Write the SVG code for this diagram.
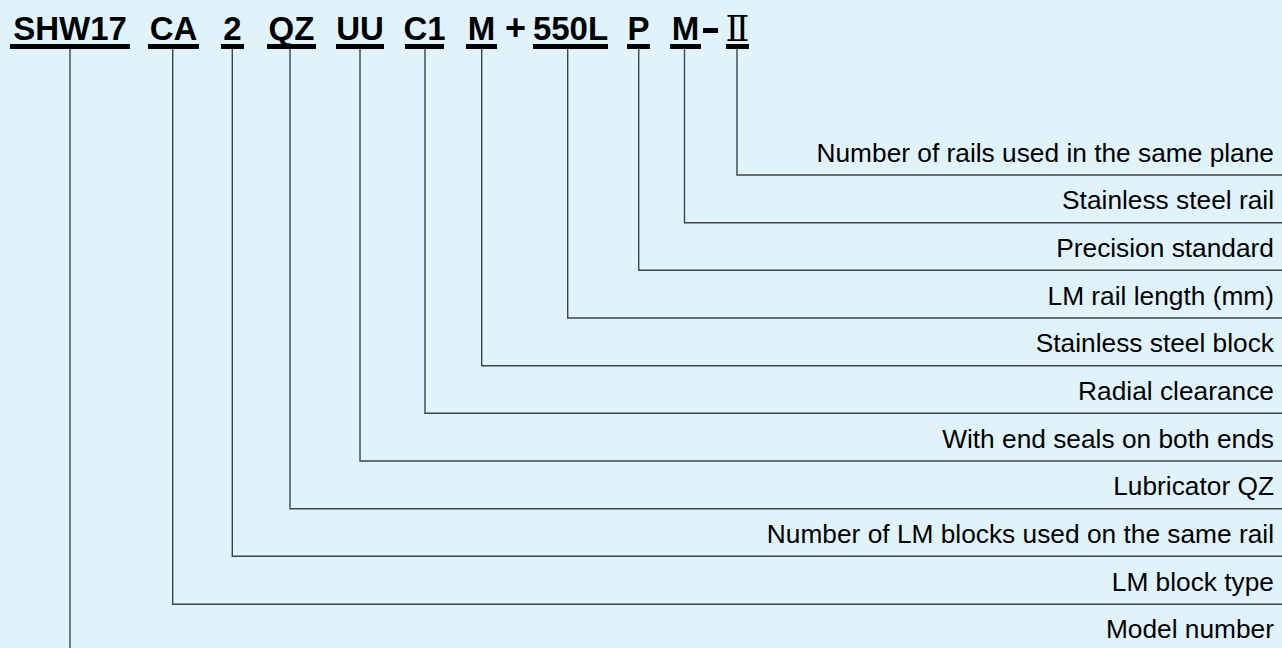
<svg xmlns="http://www.w3.org/2000/svg" width="1282" height="648" viewBox="0 0 1282 648">
<style>
.code{font-family:"Liberation Sans",Arial,sans-serif;font-weight:bold;font-size:33px;fill:#000;text-anchor:middle}
.sym{font-family:"Liberation Sans",Arial,sans-serif;font-weight:bold;font-size:36px;fill:#000;text-anchor:middle}
.rn{font-family:"DejaVu Serif","Liberation Serif",serif;font-weight:normal;font-size:35px;fill:#000;text-anchor:middle}
.lbl{font-family:"Liberation Sans",Arial,sans-serif;font-size:26.3px;fill:#000;text-anchor:end}
.ul{fill:#000}
.ln{fill:none;stroke:#3c4449;stroke-width:1.4}
</style>
<rect width="1282" height="648" fill="#e0f3fb"/>
<g id="code">
<g id="t-shw17"><text class="code" x="70" y="40">SHW17</text><rect class="ul" x="10" y="44" width="120" height="5"/></g>
<g id="t-ca"><text class="code" x="173.5" y="40">CA</text><rect class="ul" x="148" y="44" width="51" height="5"/></g>
<g id="t-2"><text class="code" x="232.5" y="40">2</text><rect class="ul" x="221" y="44" width="23" height="5"/></g>
<g id="t-qz"><text class="code" x="291.5" y="40">QZ</text><rect class="ul" x="267" y="44" width="49" height="5"/></g>
<g id="t-uu"><text class="code" x="360" y="40">UU</text><rect class="ul" x="336" y="44" width="48" height="5"/></g>
<g id="t-c1"><text class="code" x="424.5" y="40">C1</text><rect class="ul" x="405" y="44" width="39" height="5"/></g>
<g id="t-m1"><text class="code" x="481.5" y="40">M</text><rect class="ul" x="466" y="44" width="31" height="5"/></g>
<g id="t-plus"><text class="sym" x="515.5" y="40">+</text></g>
<g id="t-550l"><text class="code" x="570.5" y="40">550L</text><rect class="ul" x="533" y="44" width="75" height="5"/></g>
<g id="t-p"><text class="code" x="638.5" y="40">P</text><rect class="ul" x="627" y="44" width="23" height="5"/></g>
<g id="t-m2"><text class="code" x="685.5" y="40">M</text><rect class="ul" x="670" y="44" width="31" height="5"/></g>
<g id="t-dash"><rect class="ul" x="703" y="28" width="15" height="5"/></g>
<g id="t-ii"><text class="rn" x="737.5" y="41">Ⅱ</text><rect class="ul" x="726" y="44" width="23" height="5"/></g>
</g>
<g id="connectors">
<path class="ln" d="M737 49V175H1282"/>
<path class="ln" d="M684.5 49V222.7H1282"/>
<path class="ln" d="M638.7 49V270.3H1282"/>
<path class="ln" d="M567.7 49V318H1282"/>
<path class="ln" d="M481.7 49V365.7H1282"/>
<path class="ln" d="M425 49V413.3H1282"/>
<path class="ln" d="M360 49V461H1282"/>
<path class="ln" d="M290 49V508.7H1282"/>
<path class="ln" d="M232.3 49V556.3H1282"/>
<path class="ln" d="M172.7 49V604.3H1282"/>
<path class="ln" d="M70 49V648"/>
</g>
<g id="labels">
<g id="l1"><text class="lbl" x="1274" y="161.5">Number of rails used in the same plane</text></g>
<g id="l2"><text class="lbl" x="1274" y="209.2">Stainless steel rail</text></g>
<g id="l3"><text class="lbl" x="1274" y="256.8">Precision standard</text></g>
<g id="l4"><text class="lbl" x="1274" y="304.5">LM rail length (mm)</text></g>
<g id="l5"><text class="lbl" x="1274" y="352.2">Stainless steel block</text></g>
<g id="l6"><text class="lbl" x="1274" y="399.8">Radial clearance</text></g>
<g id="l7"><text class="lbl" x="1274" y="447.5">With end seals on both ends</text></g>
<g id="l8"><text class="lbl" x="1274" y="495.2">Lubricator QZ</text></g>
<g id="l9"><text class="lbl" x="1274" y="542.8">Number of LM blocks used on the same rail</text></g>
<g id="l10"><text class="lbl" x="1274" y="590.5">LM block type</text></g>
<g id="l11"><text class="lbl" x="1274" y="638.2">Model number</text></g>
</g>
</svg>
